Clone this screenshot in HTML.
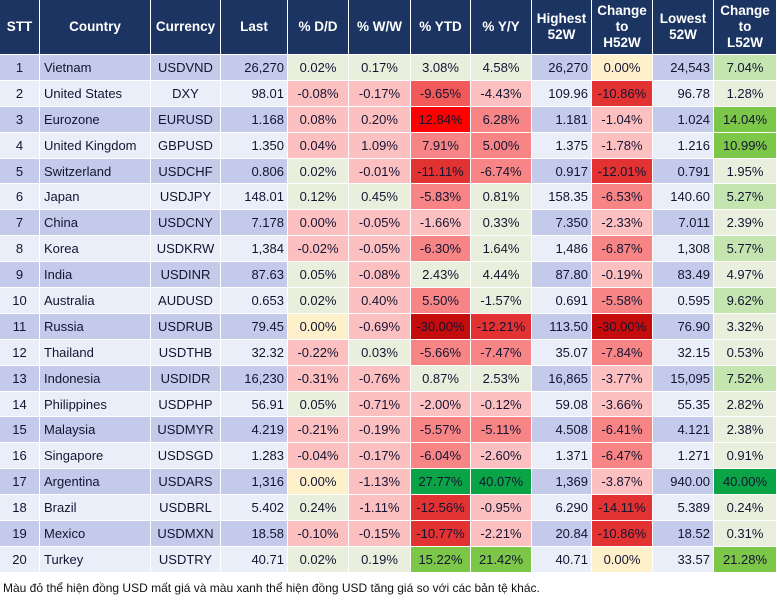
<!DOCTYPE html>
<html><head><meta charset="utf-8">
<style>
body{margin:0;width:777px;height:602px;background:#fff;overflow:hidden;font-family:"Liberation Sans",Arial,sans-serif;}
#grid{position:absolute;left:0;top:0;width:777px;display:grid;
grid-template-columns:40px 111px 70px 67px 61px 62px 60px 61px 60px 61px 61px 63px;
grid-template-rows:55px repeat(20,25.9px);}
.c{box-sizing:border-box;border-right:1px solid #fff;border-bottom:1px solid #fff;font-size:13px;color:#141432;display:flex;align-items:center;white-space:nowrap;overflow:hidden;}
.h{background:#1b3461;color:#fff;font-weight:bold;justify-content:center;text-align:center;line-height:16px;font-size:13.5px;}
.ctr{justify-content:center}.lft{justify-content:flex-start;padding-left:4px}.rgt{justify-content:flex-end;padding-right:3px}
.b1{background:#c3caea}.b0{background:#e9eef8}
.g0{background:#e9efdc}.g1{background:#c4e4b0}.g3{background:#7cc648}.gd{background:#0aa447}
.r0{background:#fdc0c0}.r1{background:#f78585}.r2{background:#f25a5a}.r3{background:#e33232}.r4{background:#c40c0c}.rr{background:#fe0000}.y{background:#fff0cc}
#note{position:absolute;left:3px;top:581px;font-size:12px;color:#111;}
</style></head><body>
<div id="grid">
<div class="c h">STT</div>
<div class="c h">Country</div>
<div class="c h">Currency</div>
<div class="c h">Last</div>
<div class="c h">% D/D</div>
<div class="c h">% W/W</div>
<div class="c h">% YTD</div>
<div class="c h">% Y/Y</div>
<div class="c h">Highest<br>52W</div>
<div class="c h">Change<br>to<br>H52W</div>
<div class="c h">Lowest<br>52W</div>
<div class="c h">Change<br>to<br>L52W</div>
</div>
<div id="note">Màu đỏ thể hiện đồng USD mất giá và màu xanh thể hiện đồng USD tăng giá so với các bản tệ khác.</div>
<script>
const countries=["Vietnam","United States","Eurozone","United Kingdom","Switzerland","Japan","China","Korea","India","Australia","Russia","Thailand","Indonesia","Philippines","Malaysia","Singapore","Argentina","Brazil","Mexico","Turkey"];
const currencies=["USDVND","DXY","EURUSD","GBPUSD","USDCHF","USDJPY","USDCNY","USDKRW","USDINR","AUDUSD","USDRUB","USDTHB","USDIDR","USDPHP","USDMYR","USDSGD","USDARS","USDBRL","USDMXN","USDTRY"];
const last=["26,270","98.01","1.168","1.350","0.806","148.01","7.178","1,384","87.63","0.653","79.45","32.32","16,230","56.91","4.219","1.283","1,316","5.402","18.58","40.71"];
const dd=["0.02%","-0.08%","0.08%","0.04%","0.02%","0.12%","0.00%","-0.02%","0.05%","0.02%","0.00%","-0.22%","-0.31%","0.05%","-0.21%","-0.04%","0.00%","0.24%","-0.10%","0.02%"];
const ww=["0.17%","-0.17%","0.20%","1.09%","-0.01%","0.45%","-0.05%","-0.05%","-0.08%","0.40%","-0.69%","0.03%","-0.76%","-0.71%","-0.19%","-0.17%","-1.13%","-1.11%","-0.15%","0.19%"];
const ytd=["3.08%","-9.65%","12.84%","7.91%","-11.11%","-5.83%","-1.66%","-6.30%","2.43%","5.50%","-30.00%","-5.66%","0.87%","-2.00%","-5.57%","-6.04%","27.77%","-12.56%","-10.77%","15.22%"];
const yy=["4.58%","-4.43%","6.28%","5.00%","-6.74%","0.81%","0.33%","1.64%","4.44%","-1.57%","-12.21%","-7.47%","2.53%","-0.12%","-5.11%","-2.60%","40.07%","-0.95%","-2.21%","21.42%"];
const high=["26,270","109.96","1.181","1.375","0.917","158.35","7.350","1,486","87.80","0.691","113.50","35.07","16,865","59.08","4.508","1.371","1,369","6.290","20.84","40.71"];
const chH=["0.00%","-10.86%","-1.04%","-1.78%","-12.01%","-6.53%","-2.33%","-6.87%","-0.19%","-5.58%","-30.00%","-7.84%","-3.77%","-3.66%","-6.41%","-6.47%","-3.87%","-14.11%","-10.86%","0.00%"];
const low=["24,543","96.78","1.024","1.216","0.791","140.60","7.011","1,308","83.49","0.595","76.90","32.15","15,095","55.35","4.121","1.271","940.00","5.389","18.52","33.57"];
const chL=["7.04%","1.28%","14.04%","10.99%","1.95%","5.27%","2.39%","5.77%","4.97%","9.62%","3.32%","0.53%","7.52%","2.82%","2.38%","0.91%","40.00%","0.24%","0.31%","21.28%"];
const shades=[
["g0","g0","g0","g0","y","g1"],["r0","r0","r2","r0","r3","g0"],["r0","r0","rr","r1","r0","g3"],["r0","r0","r1","r1","r0","g3"],
["g0","r0","r3","r1","r3","g0"],["g0","g0","r1","g0","r1","g1"],["r0","r0","r0","g0","r0","g0"],["r0","r0","r1","g0","r1","g1"],
["g0","r0","g0","g0","r0","g0"],["g0","r0","r1","g0","r1","g1"],["y","r0","r4","r3","r4","g0"],["r0","g0","r1","r1","r1","g0"],
["r0","r0","g0","g0","r0","g1"],["g0","r0","r0","r0","r0","g0"],["r0","r0","r1","r1","r1","g0"],["r0","r0","r1","r0","r1","g0"],
["y","r0","gd","gd","r0","gd"],["g0","r0","r3","r0","r3","g0"],["r0","r0","r3","r0","r3","g0"],["g0","g0","g3","g3","y","g3"]];
const names=["stt","country","currency","last","pct-dd","pct-ww","pct-ytd","pct-yy","highest-52w","change-h52w","lowest-52w","change-l52w"];
const grid=document.getElementById('grid');
for(let i=0;i<20;i++){
  const band=i%2===0?"b1":"b0";
  const vals=[String(i+1),countries[i],currencies[i],last[i],dd[i],ww[i],ytd[i],yy[i],high[i],chH[i],low[i],chL[i]];
  const aligns=["ctr","lft","ctr","rgt","ctr","ctr","ctr","ctr","rgt","ctr","rgt","ctr"];
  const bgs=[band,band,band,band,shades[i][0],shades[i][1],shades[i][2],shades[i][3],band,shades[i][4],band,shades[i][5]];
  for(let j=0;j<12;j++){
    const d=document.createElement('div');
    d.className='c '+aligns[j]+' '+bgs[j];
    d.textContent=vals[j];
    
    
    grid.appendChild(d);
  }
}
</script>
</body></html>
